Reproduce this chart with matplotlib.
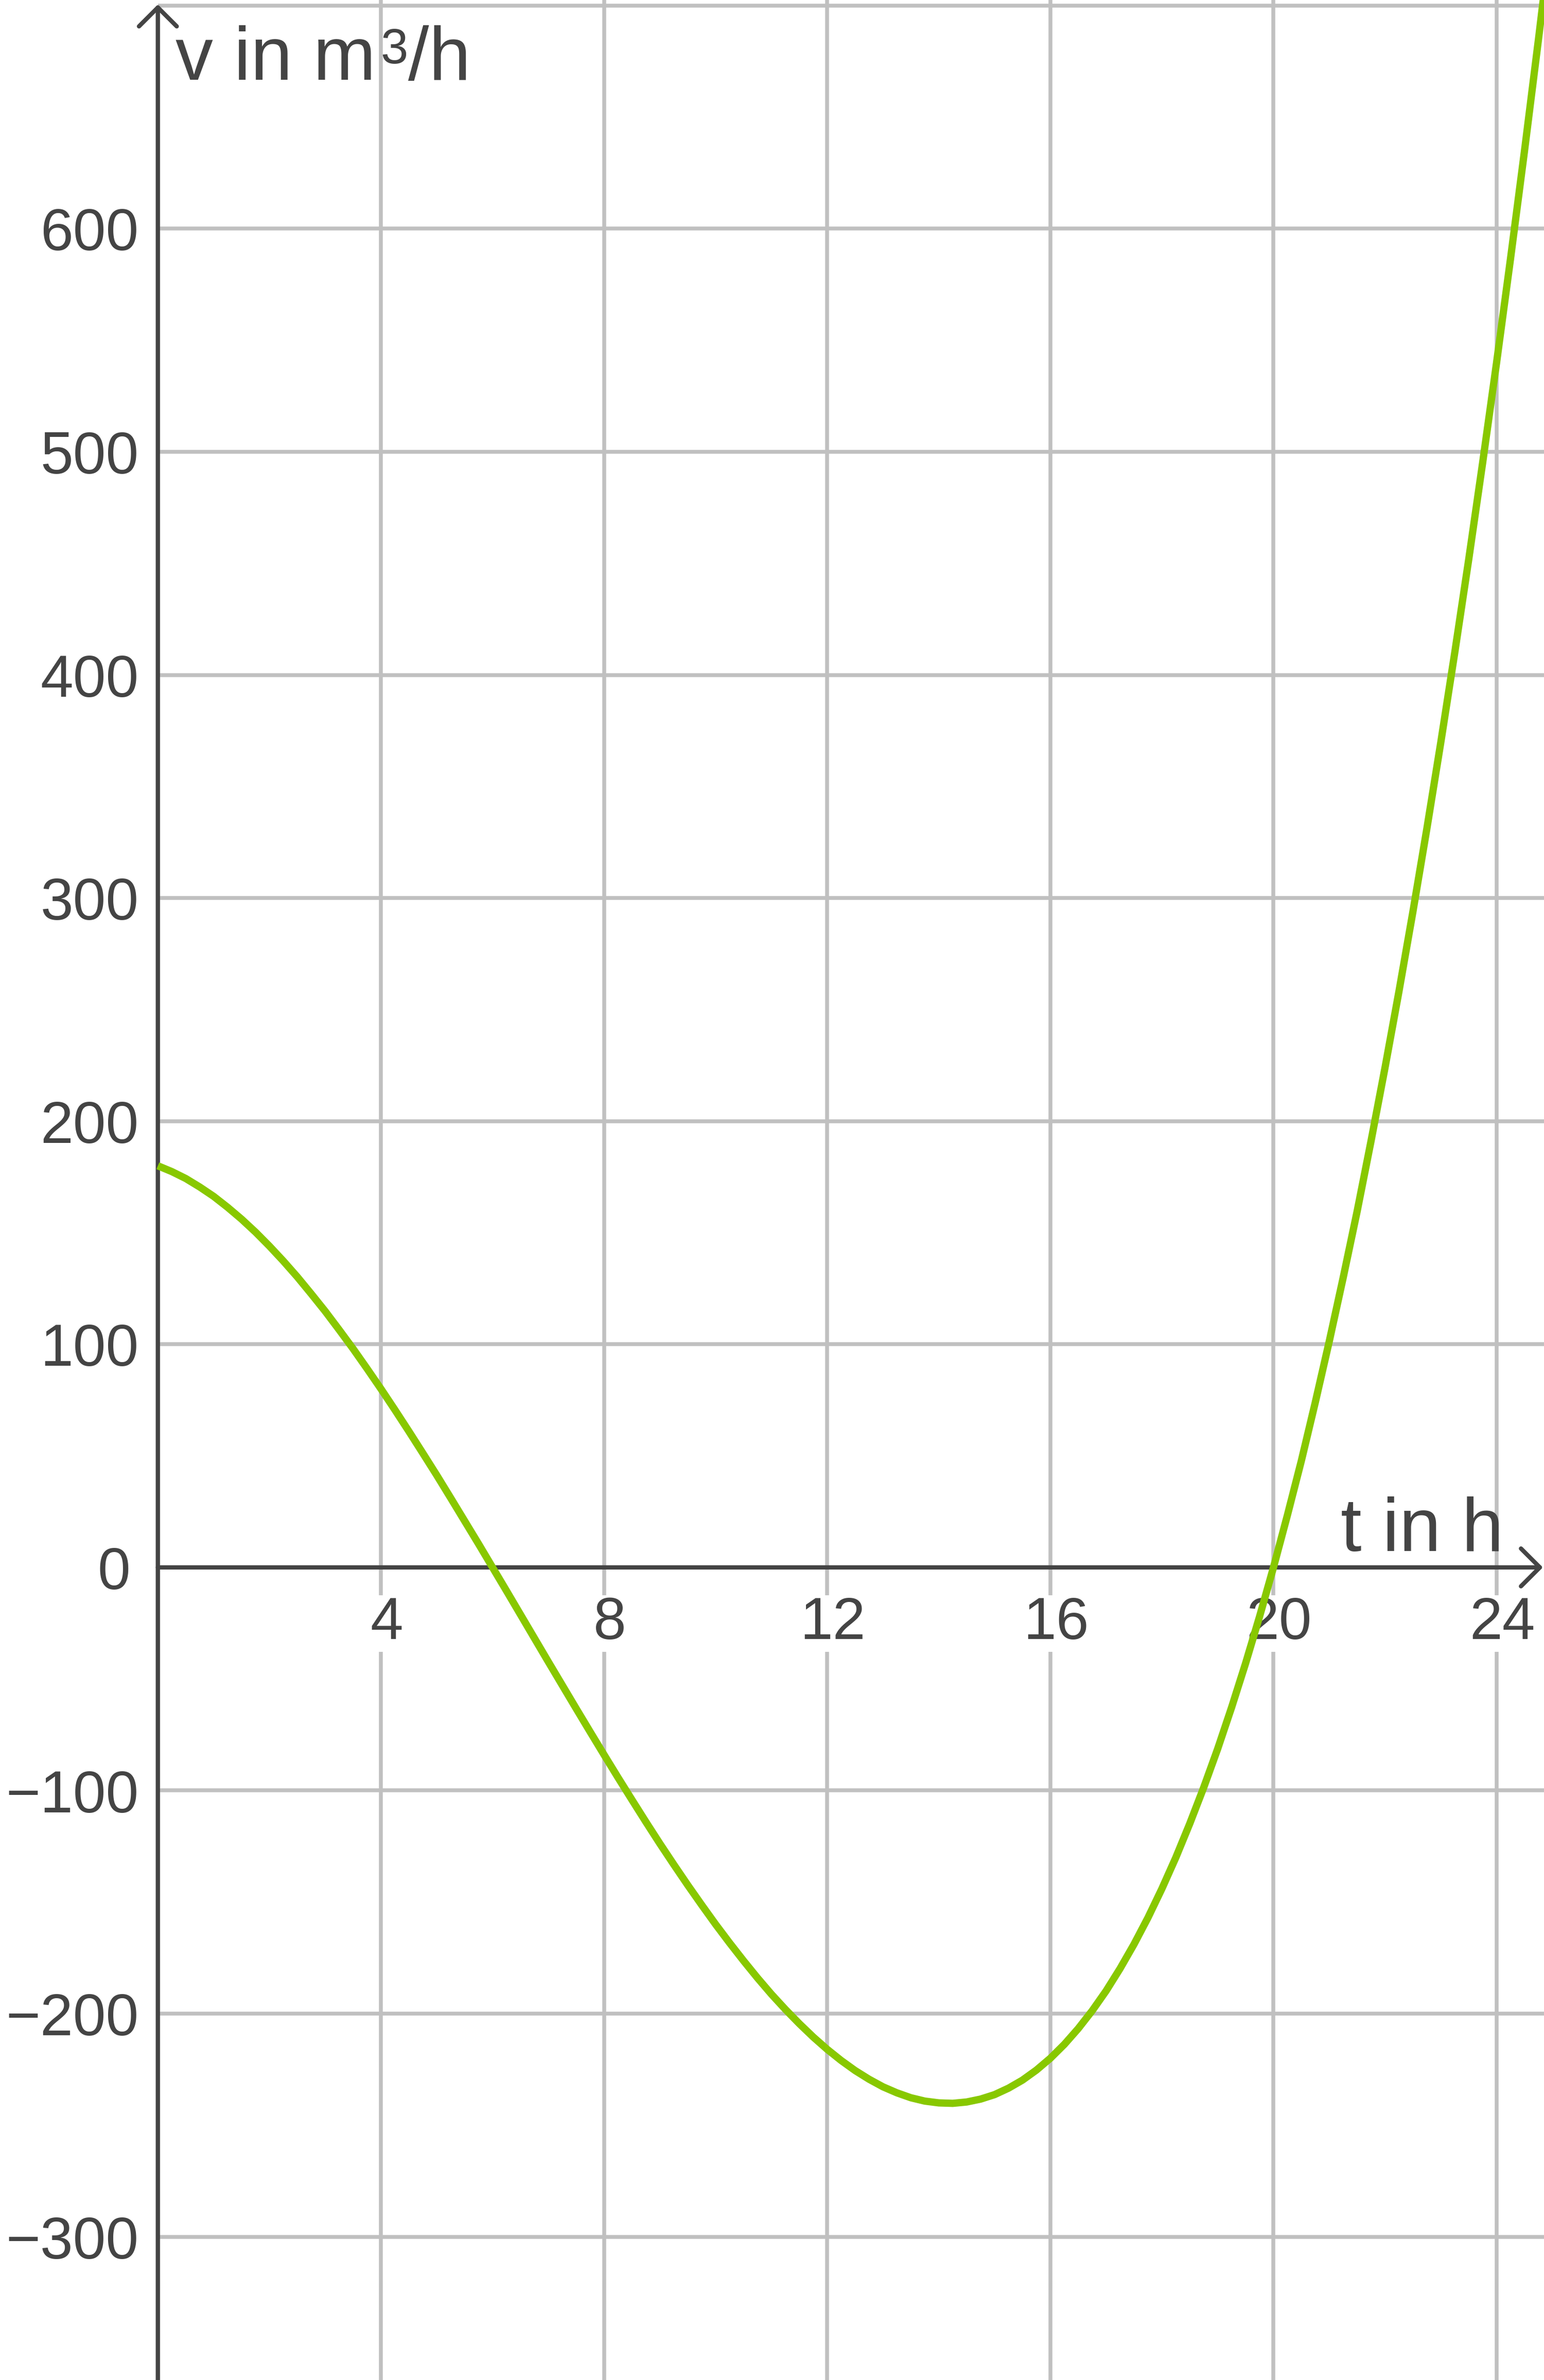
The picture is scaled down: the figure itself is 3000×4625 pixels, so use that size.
import numpy as np
import matplotlib
matplotlib.use('Agg')
import matplotlib.pyplot as plt

plt.rcParams['font.family'] = ['Liberation Sans', 'DejaVu Sans']

# Werte (t in h, v in m³/h)
t = [0, 0.25, 0.5, 0.75, 1, 1.25, 1.5, 1.75, 2, 2.25, 2.5, 2.75, 3, 3.25,
     3.5, 3.75, 4, 4.25, 4.5, 4.75, 5, 5.25, 5.5, 5.75, 6, 6.25, 6.5, 6.75,
     7, 7.25, 7.5, 7.75, 8, 8.25, 8.5, 8.75, 9, 9.25, 9.5, 9.75, 10, 10.25,
     10.5, 10.75, 11, 11.25, 11.5, 11.75, 12, 12.25, 12.5, 12.75, 13, 13.25,
     13.5, 13.75, 14, 14.25, 14.5, 14.75, 15, 15.25, 15.5, 15.75, 16, 16.25,
     16.5, 16.75, 17, 17.25, 17.5, 17.75, 18, 18.25, 18.5, 18.75, 19, 19.25,
     19.5, 19.75, 20, 20.25, 20.5, 20.75, 21, 21.25, 21.5, 21.75, 22, 22.25,
     22.5, 22.75, 23, 23.25, 23.5, 23.75, 24, 24.25, 24.5, 24.75, 25]
v = [180, 177.4, 174.3, 170.5, 166.3, 161.4, 156.1, 150.3, 144, 137.3, 130.2,
     122.6, 114.8, 106.5, 98, 89.1, 80, 70.6, 61, 51.2, 41.3, 31.1, 20.8, 10.5,
     0, -10.5, -21.1, -31.7, -42.3, -52.8, -63.3, -73.7, -84, -94.2, -104.2,
     -114.1, -123.8, -133.2, -142.4, -151.3, -160, -168.3, -176.3, -184,
     -191.3, -198.1, -204.5, -210.5, -216, -221, -225.5, -229.4, -232.8,
     -235.5, -237.7, -239.2, -240, -240.2, -239.6, -238.3, -236.3, -233.4,
     -229.8, -225.3, -220, -213.8, -206.7, -198.7, -189.8, -179.8, -168.9,
     -157, -144, -130, -114.8, -98.6, -81.3, -62.7, -43, -22.1, 0, 23.4, 47.8,
     74, 101.3, 129.9, 159.6, 191.2, 224, 258.2, 293.9, 331.1, 369.8, 410,
     451.7, 495.1, 540, 586.6, 634.8, 684.7, 736.3]

x_ticks = [4, 8, 12, 16, 20, 24]
y_ticks = [-300, -200, -100, 0, 100, 200, 300, 400, 500, 600]
y_grid = [-300, -200, -100, 100, 200, 300, 400, 500, 600, 700]

dunkel = '#444444'
grau = '#c0c0c0'
gruen = '#88c800'

fig = plt.figure(figsize=(10, 15.4167), dpi=300)
ax = fig.add_axes([0, 0, 1, 1])
ax.set_xlim(-2.83, 24.85)
ax.set_ylim(-364.2, 702.5)
ax.axis('off')

# Gitter
for x in x_ticks:
    ax.axvline(x, color=grau, lw=1.8, zorder=1)
ax.hlines(y_grid, 0, 24.85, color=grau, lw=1.8, zorder=1)

# Achsen mit Pfeilen
pfeil = dict(arrowstyle='->,head_length=0.4,head_width=0.4', lw=2.0,
             color=dunkel, mutation_scale=22, shrinkA=0, shrinkB=0)
ax.annotate('', xy=(24.83, 0), xytext=(0, 0), arrowprops=pfeil, zorder=3)
ax.annotate('', xy=(0, 700.5), xytext=(0, -364.2), arrowprops=pfeil, zorder=3)

# Beschriftung
for x in x_ticks:
    ax.text(x + 0.1, -32, str(x), ha='center', va='baseline', fontsize=27.5,
            color=dunkel, zorder=2,
            bbox=dict(fc='white', ec='none', pad=0.3))
for y in y_ticks:
    lab = str(y).replace('-', '\u2212')
    xr = -0.49 if y == 0 else -0.34
    ax.text(xr, y - 9.7, lab, ha='right', va='baseline', fontsize=27.5,
            color=dunkel, zorder=2)

# y-Achsenbeschriftung: v in m³/h, die Hochzahl separat
t1 = ax.text(0.32, 666.7, 'v in m', ha='left', va='baseline',
             fontsize=35, color=dunkel, zorder=2)
t2 = ax.annotate('3', xy=(1, 1), xycoords=t1, xytext=(2, -1),
                 textcoords='offset points', ha='left', va='top',
                 fontsize=23, color=dunkel, zorder=2)
ax.annotate('/h', xy=(1, 0), xycoords=(t2, t1), xytext=(0.3, 0),
            textcoords='offset points', ha='left', va='bottom',
            fontsize=35, color=dunkel, zorder=2)

ax.text(24.12, 7.4, 't in h', ha='right', va='baseline', fontsize=35,
        color=dunkel, zorder=2)

# Kurve
ax.plot(t, v, color=gruen, lw=3.4, zorder=4, solid_capstyle='butt')

fig.savefig('out.png', dpi=300)
